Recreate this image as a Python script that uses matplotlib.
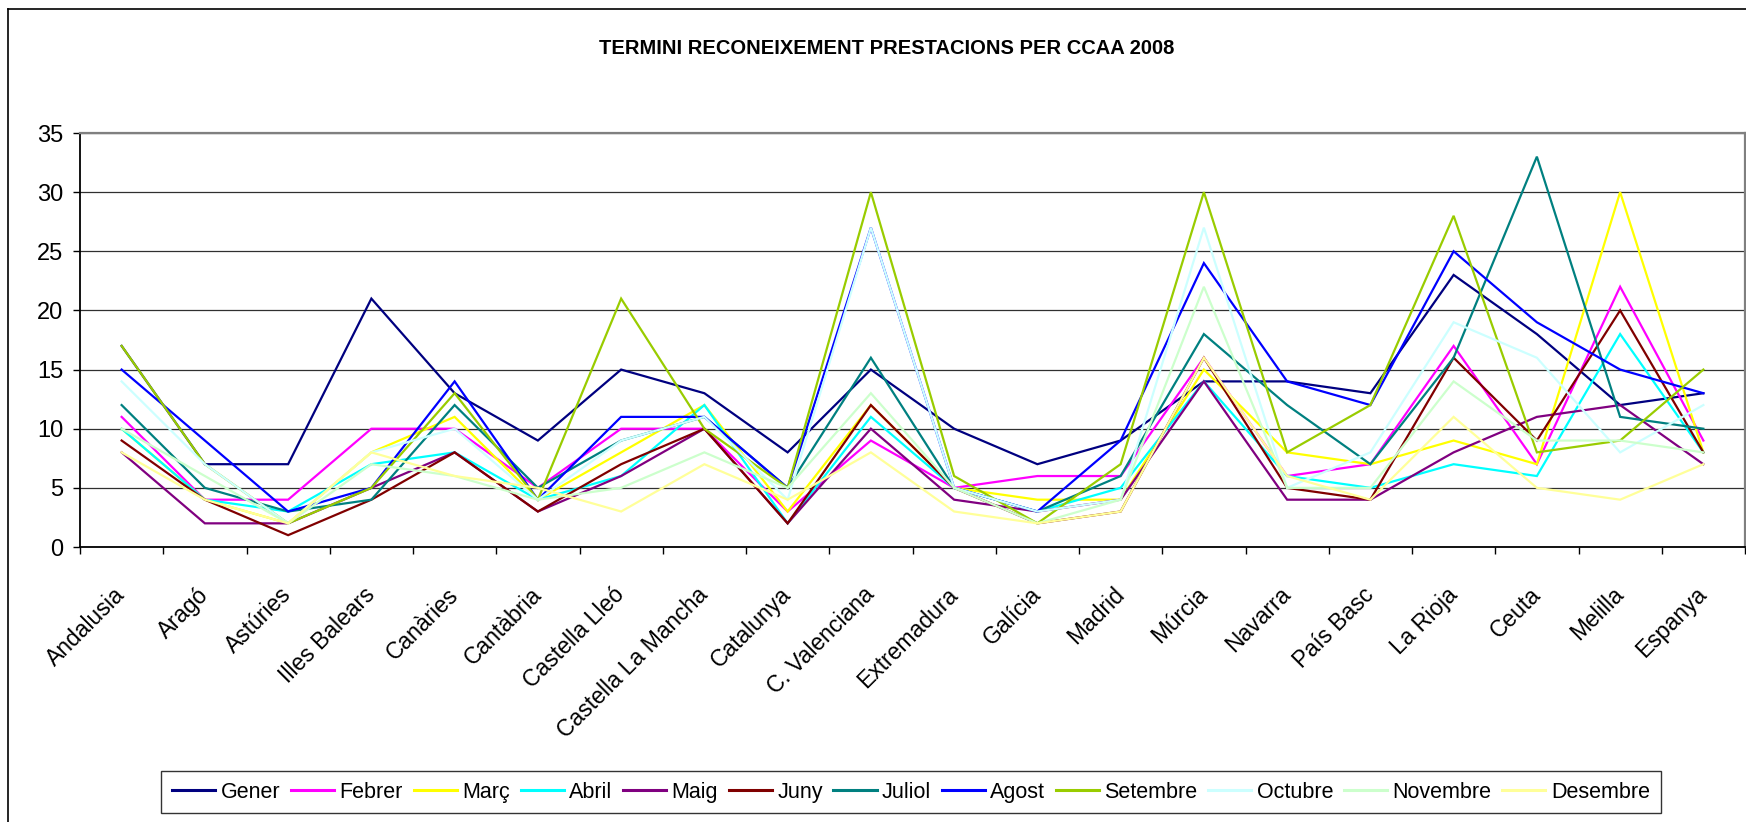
import numpy as np
import matplotlib
matplotlib.use('Agg')
import matplotlib.pyplot as plt
import matplotlib.transforms as mtransforms
from matplotlib.lines import Line2D

plt.rcParams['font.family'] = ['Liberation Sans', 'DejaVu Sans']

# comunitats autonomes
categories = ["Andalusia", "Aragó", "Astúries", "Illes Balears", "Canàries", "Cantàbria",
              "Castella Lleó", "Castella La Mancha", "Catalunya", "C. Valenciana",
              "Extremadura", "Galícia", "Madrid", "Múrcia", "Navarra", "País Basc",
              "La Rioja", "Ceuta", "Melilla", "Espanya"]

# dies per mes (llegits del gràfic)
gener    = [17, 7, 7, 21, 13, 9, 15, 13, 8, 15, 10, 7, 9, 14, 14, 13, 23, 18, 12, 13]
febrer   = [11, 4, 4, 10, 10, 5, 10, 10, 3, 9, 5, 6, 6, 16, 6, 7, 17, 7, 22, 9]
marc     = [10, 4, 2, 8, 11, 4, 8, 12, 3, 12, 5, 4, 4, 15, 8, 7, 9, 7, 30, 8]
abril    = [10, 4, 3, 7, 8, 4, 6, 12, 2, 11, 5, 3, 5, 14, 6, 5, 7, 6, 18, 8]
maig     = [8, 2, 2, 5, 8, 3, 6, 10, 2, 10, 4, 3, 4, 14, 4, 4, 8, 11, 12, 7]
juny     = [9, 4, 1, 4, 8, 3, 7, 10, 2, 12, 5, 2, 3, 16, 5, 4, 16, 9, 20, 8]
juliol   = [12, 5, 3, 4, 12, 5, 9, 11, 5, 16, 5, 3, 6, 18, 12, 7, 16, 33, 11, 10]
agost    = [15, 9, 3, 5, 14, 4, 11, 11, 5, 27, 5, 3, 9, 24, 14, 12, 25, 19, 15, 13]
setembre = [17, 7, 2, 5, 13, 4, 21, 10, 5, 30, 6, 2, 7, 30, 8, 12, 28, 8, 9, 15]
octubre  = [14, 7, 2, 8, 10, 4, 9, 11, 4, 27, 5, 3, 4, 27, 5, 8, 19, 16, 8, 12]
novembre = [10, 6, 2, 7, 6, 4, 5, 8, 5, 13, 5, 2, 4, 22, 5, 5, 14, 9, 9, 8]
desembre = [8, 4, 2, 8, 6, 5, 3, 7, 4, 8, 3, 2, 3, 16, 6, 4, 11, 5, 4, 7]

mesos = ["Gener", "Febrer", "Març", "Abril", "Maig", "Juny", "Juliol", "Agost",
         "Setembre", "Octubre", "Novembre", "Desembre"]
series = [gener, febrer, marc, abril, maig, juny, juliol, agost,
          setembre, octubre, novembre, desembre]
colors = ["#000080", "#FF00FF", "#FFFF00", "#00FFFF", "#800080", "#800000",
          "#008080", "#0000FF", "#99CC00", "#CCFFFF", "#CCFFCC", "#FFFF99"]

W, H = 1746, 822
fig = plt.figure(figsize=(W / 100, H / 100), dpi=100, facecolor="white")
ax = fig.add_axes([80 / W, 1 - 547 / H, 1665 / W, 414 / H])

x = np.arange(len(categories))
for name, vals, c in zip(mesos, series, colors):
    ax.plot(x, vals, color=c, lw=1.6, label=name, solid_joinstyle="miter")

ax.set_xlim(-0.5, len(categories) - 0.5)
ax.set_ylim(0, 35)
ax.set_yticks(range(0, 36, 5))
ax.yaxis.grid(True, color="#303030", lw=0.9)
ax.set_axisbelow(True)

# etiquetes de categoria, girades
ax.set_xticks(x)
ax.set_xticklabels(categories, rotation=45, ha="right", rotation_mode="anchor",
                   fontsize=16.5)
ax.set_xticks(np.arange(-0.5, len(categories), 1), minor=True)
ax.tick_params(axis="x", which="major", length=0, pad=26)
ax.tick_params(axis="x", which="minor", length=5, width=1, color="black", direction="out")
ax.tick_params(axis="y", length=5, width=1, pad=7, labelsize=17, direction="out")
shift = mtransforms.ScaledTranslation(-8 / 100, 0, fig.dpi_scale_trans)
for lab in ax.get_xticklabels():
    lab.set_transform(lab.get_transform() + shift)

for s in ["left", "bottom"]:
    ax.spines[s].set_color("black")
    ax.spines[s].set_linewidth(1.3)
for s in ["top", "right"]:
    ax.spines[s].set_color("#808080")
    ax.spines[s].set_linewidth(1.6)

fig.text(887 / W, 1 - 48 / H, "TERMINI RECONEIXEMENT PRESTACIONS PER CCAA 2008",
         ha="center", va="center", fontsize=14.5, fontweight="bold")

leg = fig.legend(loc="center", bbox_to_anchor=(911 / W, 1 - 792 / H), ncol=12,
                 frameon=True, fancybox=False, handlelength=2.0, handletextpad=0.25,
                 columnspacing=0.5, borderpad=0.5, fontsize=15.5)
leg.get_frame().set_edgecolor("black")
leg.get_frame().set_linewidth(1.0)
for h in leg.get_lines():
    h.set_linewidth(2.2)

# marc exterior del gràfic
fig.add_artist(Line2D([8 / W, 8 / W], [0, 1 - 9 / H], transform=fig.transFigure,
                      color="black", lw=1.2))
fig.add_artist(Line2D([8 / W, 1], [1 - 9 / H, 1 - 9 / H], transform=fig.transFigure,
                      color="black", lw=1.2))

fig.savefig("out.png", dpi=100, facecolor="white")
